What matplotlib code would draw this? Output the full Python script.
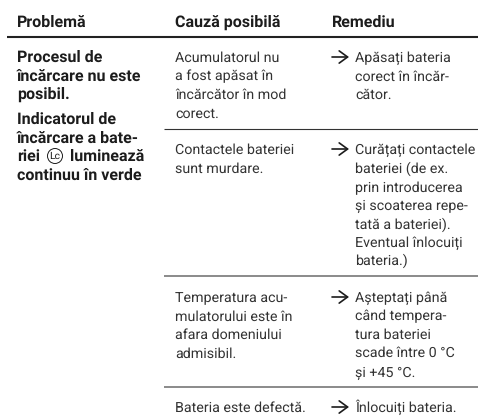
import matplotlib
matplotlib.use("Agg")
import matplotlib.pyplot as plt
from matplotlib.patches import Ellipse

plt.rcParams["text.hinting"] = "no_hinting"

W, H = 478, 417
BODY = ["Roboto", "Liberation Sans", "DejaVu Sans"]

headers = ["Problemă", "Cauză posibilă", "Remediu"]
problem = [
    "Procesul de", "încărcare nu este", "posibil.",
    "Indicatorul de", "încărcare a bate-", "riei", "continuu în verde",
]
causes = [
    ["Acumulatorul nu", "a fost apăsat în", "încărcător în mod", "corect."],
    ["Contactele bateriei", "sunt murdare."],
    ["Temperatura acu-", "mulatorului este în", "afara domeniului", "admisibil."],
    ["Bateria este defectă."],
]
remedies = [
    ["Apăsați bateria", "corect în încăr-", "cător."],
    ["Curățați contactele", "bateriei (de ex.", "prin introducerea", "și scoaterea repe-",
     "tată a bateriei).", "Eventual înlocuiți", "bateria.)"],
    ["Așteptați până", "când tempera-", "tura bateriei", "scade între 0 °C", "și +45 °C."],
    ["Înlocuiți bateria."],
]
row_tops = [57, 149, 297, 407]
remedy_y = [[57, 76, 94], [149, 168, 187, 205, 224, 242, 260], [297, 315, 334, 352, 372], [407]]
problem_y = [57, 76, 94, 119, 138, 156, 175]

fig = plt.figure(figsize=(W / 100, H / 100), dpi=100, facecolor="white")
ax = fig.add_axes([0, 0, 1, 1])
ax.set_xlim(0, W)
ax.set_ylim(H, 0)
ax.axis("off")

INK = "#1c1c1c"
FS = 10.3
FSB = 11.5
def t(x, y, s, bold=False, **kw):
    ax.text(x, y + 5, s, family=BODY, fontsize=FSB if bold else FS, color=kw.pop("color", INK),
            fontweight="bold" if bold else "normal", va="baseline", ha="left", **kw)

for x, s in zip([17, 175, 332], headers):
    t(x, 21.5, s, bold=True)
ax.plot([7, W], [37, 37], color="#222222", lw=1.5, solid_capstyle="butt")
ax.plot([164, W], [129, 129], color="#333333", lw=0.8, solid_capstyle="butt")
ax.plot([164, W], [276, 276], color="#777777", lw=1.2, solid_capstyle="butt")
ax.plot([164, W], [387, 387], color="#777777", lw=1.2, solid_capstyle="butt")

for y, s in zip(problem_y, problem):
    t(17, y, s, bold=True)
t(70, 156, "luminează", bold=True)
ax.add_patch(Ellipse((55, 156), 15, 15, fill=False, ec=INK, lw=0.7))
ax.text(55, 156, "Lc", family=BODY, fontsize=7.5, color=INK, ha="center", va="center")

for top, lines in zip(row_tops, causes):
    for i, s in enumerate(lines):
        t(175, top + i * 18.6, s, color="#333333")

for ys, lines in zip(remedy_y, remedies):
    ax.annotate("", xy=(349, ys[0]), xytext=(332, ys[0]),
                arrowprops=dict(arrowstyle="->,head_length=0.55,head_width=0.4", lw=1.2,
                                color=INK, mutation_scale=11, shrinkA=0, shrinkB=0))
    for y, s in zip(ys, lines):
        t(355, y, s, color="#333333")

fig.savefig("out.png", dpi=100)
